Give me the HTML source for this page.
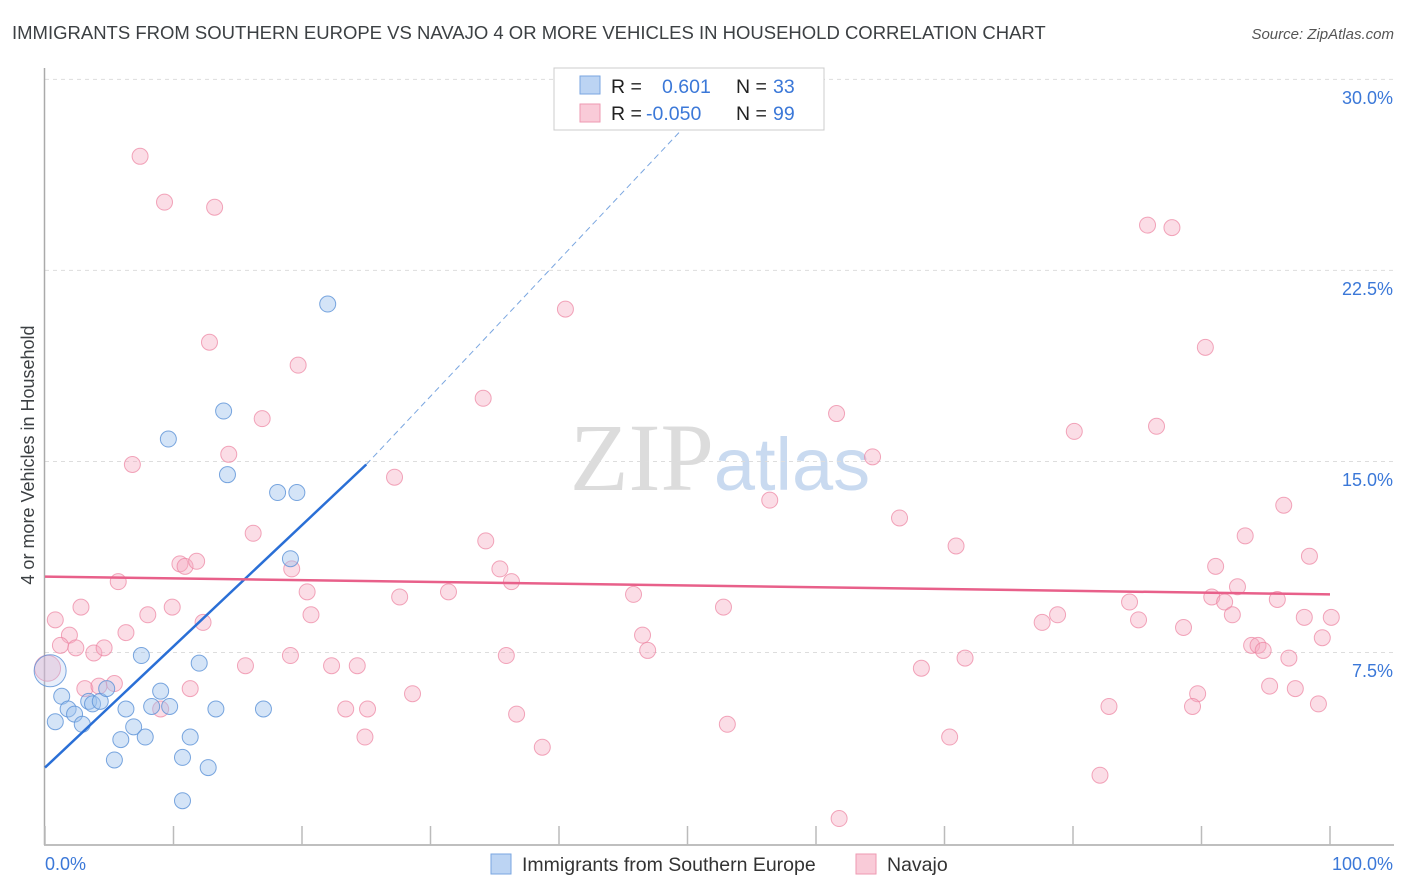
<!DOCTYPE html>
<html><head><meta charset="utf-8"><style>
body{margin:0;background:#fff;font-family:"Liberation Sans",sans-serif;}
svg{display:block}
</style></head><body>
<svg id="chart" width="1406" height="892" viewBox="0 0 1406 892">
<text x="12" y="39" font-size="18.5" fill="#3c4043">IMMIGRANTS FROM SOUTHERN EUROPE VS NAVAJO 4 OR MORE VEHICLES IN HOUSEHOLD CORRELATION CHART</text>
<text x="1394" y="39" font-size="15" fill="#555" text-anchor="end" font-style="italic">Source: ZipAtlas.com</text>
<text x="720" y="490" font-size="96" text-anchor="middle" font-family="Liberation Serif,serif"><tspan fill="#dcdcdc">ZIP</tspan><tspan fill="#c9daf0" font-family="Liberation Sans,sans-serif" font-size="74">atlas</tspan></text>
<g id="grid"></g>
<g id="axes"></g>
<g id="pink"></g>
<g id="blue"></g>
<g id="lines"></g>
<text transform="translate(34,455) rotate(-90)" font-size="18" fill="#3c4043" text-anchor="middle">4 or more Vehicles in Household</text>
<g>
<rect x="554" y="68" width="270" height="62" fill="#fff" stroke="#ccc"/>
<rect x="580" y="76" width="20" height="18" fill="#bcd4f3" stroke="#7aa6e0"/>
<text x="611" y="93" font-size="19.5" fill="#222">R =</text><text x="662" y="93" font-size="19.5" fill="#3b78d8">0.601</text>
<text x="736" y="93" font-size="19.5" fill="#222">N =</text><text x="773" y="93" font-size="19.5" fill="#3b78d8">33</text>
<rect x="580" y="104" width="20" height="18" fill="#f9cbd8" stroke="#ee9ab2"/>
<text x="611" y="120" font-size="19.5" fill="#222">R =</text><text x="646" y="120" font-size="19.5" fill="#3b78d8">-0.050</text>
<text x="736" y="120" font-size="19.5" fill="#222">N =</text><text x="773" y="120" font-size="19.5" fill="#3b78d8">99</text>
</g>
<g>
<rect x="491" y="854" width="20" height="20" fill="#bcd4f3" stroke="#7aa6e0"/>
<text x="522" y="871" font-size="19.5" fill="#333">Immigrants from Southern Europe</text>
<rect x="856" y="854" width="20" height="20" fill="#f9cbd8" stroke="#ee9ab2"/>
<text x="887" y="871" font-size="19.5" fill="#333">Navajo</text>
</g>
</svg>
<script>
const yTicks=[7.5,15,22.5,30];
const yTickLabels=["7.5%","15.0%","22.5%","30.0%"];
const xTicks=[0,10,20,30,40,50,60,70,80,90,100];
const blueX=[0.4,0.8,1.3,1.8,2.3,2.9,3.4,3.7,4.3,4.8,5.4,5.9,6.3,6.9,7.5,7.8,8.3,9,9.6,9.7,10.7,10.7,11.3,12,12.7,13.3,13.9,14.2,17.0,18.1,19.1,19.6,22.0];
const blueY=[6.8,4.8,5.8,5.3,5.1,4.7,5.6,5.5,5.6,6.1,3.3,4.1,5.3,4.6,7.4,4.2,5.4,6.0,15.9,5.4,3.4,1.7,4.2,7.1,3.0,5.3,17.0,14.5,5.3,13.8,11.2,13.8,21.2];
const pinkX=[0.2,7.4,9.3,13.2,12.8,19.7,40.5,85.8,87.7,90.3,34.1,16.9,61.6,80.1,86.5,64.4,14.3,6.8,27.2,56.4,66.5,96.4,16.2,34.3,70.9,93.4,98.4,10.5,10.9,11.8,19.2,35.4,5.7,36.3,20.4,31.4,91.1,92.8,45.8,27.6,90.8,91.8,95.9,0.8,2.8,8.0,9.9,20.7,12.3,52.8,84.4,77.6,78.8,85.1,88.6,92.4,98,100.1,1.9,6.3,46.5,1.2,2.4,3.8,4.6,46.9,93.9,94.4,94.8,99.4,19.1,35.9,15.6,22.3,24.3,96.8,68.2,71.6,3.1,4.2,5.4,11.3,28.6,89.7,95.3,97.3,9.0,23.4,25.1,36.7,82.8,89.3,99.1,53.1,24.9,70.4,38.7,82.1,61.8];
const pinkY=[6.9,27.0,25.2,25.0,19.7,18.8,21.0,24.3,24.2,19.5,17.5,16.7,16.9,16.2,16.4,15.2,15.3,14.9,14.4,13.5,12.8,13.3,12.2,11.9,11.7,12.1,11.3,11.0,10.9,11.1,10.8,10.8,10.3,10.3,9.9,9.9,10.9,10.1,9.8,9.7,9.7,9.5,9.6,8.8,9.3,9.0,9.3,9.0,8.7,9.3,9.5,8.7,9.0,8.8,8.5,9.0,8.9,8.9,8.2,8.3,8.2,7.8,7.7,7.5,7.7,7.6,7.8,7.8,7.6,8.1,7.4,7.4,7.0,7.0,7.0,7.3,6.9,7.3,6.1,6.2,6.3,6.1,5.9,5.9,6.2,6.1,5.3,5.3,5.3,5.1,5.4,5.4,5.5,4.7,4.2,4.2,3.8,2.7,1.0];
const blueFit=[0,3.0,25,14.9,53.2,30];
const pinkFit=[0,10.5,100,9.8];
const X=v=>45+v*12.85, Y=v=>844-v*25.47;
const NS="http://www.w3.org/2000/svg";
function mk(tag,parent,attrs){const e=document.createElementNS(NS,tag);for(const k in attrs)e.setAttribute(k,attrs[k]);document.getElementById(parent).appendChild(e);return e;}
yTicks.forEach((t,i)=>{
 const g=mk('line','grid',{x1:45,x2:1394,y1:Y(t)-0.5,y2:Y(t)-0.5,stroke:'#ddd','stroke-dasharray':'4,4'});
 
 
 const l=mk('text','grid',{x:1393,y:Y(t)+24,'font-size':18,fill:'#3b78d8','text-anchor':'end'});
 l.textContent=yTickLabels[i];
 
 
});
let a=mk('line','axes',{x1:44.5,x2:44.5,y1:68,y2:845,stroke:'#aaa','stroke-width':1.5});


a=mk('line','axes',{x1:44,x2:1394,y1:845,y2:845,stroke:'#aaa','stroke-width':1.5});


xTicks.forEach(t=>{const e=mk('line','axes',{x1:X(t),x2:X(t),y1:826,y2:845,stroke:'#bbb','stroke-width':1.5});
 
 });
let t0=mk('text','axes',{x:45,y:870,'font-size':18,fill:'#3b78d8'});t0.textContent='0.0%';


let t1=mk('text','axes',{x:1393,y:870,'font-size':18,fill:'#3b78d8','text-anchor':'end'});t1.textContent='100.0%';


pinkX.forEach((x,i)=>{const c=mk('circle','pink',{cx:X(x),cy:Y(pinkY[i]),r:i==0?13:8,fill:'rgba(246,170,192,0.4)',stroke:'rgba(236,130,160,0.7)'});
 
 });
blueX.forEach((x,i)=>{const c=mk('circle','blue',{cx:X(x),cy:Y(blueY[i]),r:i==0?16:8,fill:i==0?'rgba(180,200,238,0.3)':'rgba(160,196,238,0.45)',stroke:'rgba(90,145,215,0.8)'});
 
 });
let b=mk('line','lines',{x1:X(blueFit[0]),y1:Y(blueFit[1]),x2:X(blueFit[2]),y2:Y(blueFit[3]),stroke:'#2a6fd6','stroke-width':2.5});


b=mk('line','lines',{x1:X(blueFit[2]),y1:Y(blueFit[3]),x2:X(blueFit[4]),y2:Y(blueFit[5]),stroke:'#7aa6e0','stroke-width':1,'stroke-dasharray':'6,4'});


b=mk('line','lines',{x1:X(pinkFit[0]),y1:Y(pinkFit[1]),x2:X(pinkFit[2]),y2:Y(pinkFit[3]),stroke:'#e8608a','stroke-width':2.5});


</script>
</body></html>
